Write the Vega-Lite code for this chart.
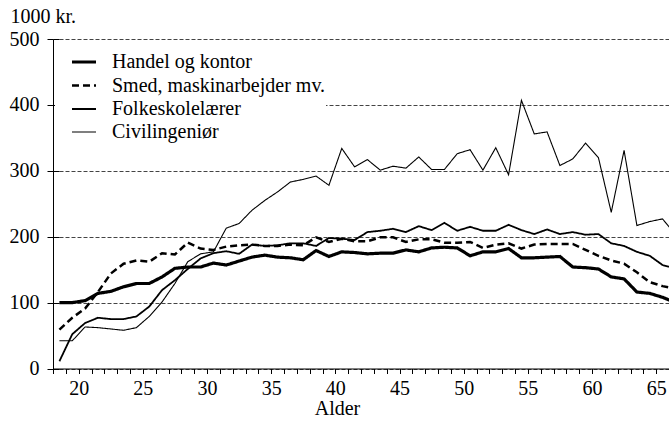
{
  "$schema": "https://vega.github.io/schema/vega-lite/v6.json",
  "width": 616,
  "height": 329.5,
  "autosize": {"type": "none"},
  "padding": {"left": 53, "top": 39, "right": 0, "bottom": 54.5},
  "background": "white",
  "config": {"view": {"stroke": null}, "font": "Liberation Serif"},
  "data": {"values": [
    {"alder": 18.5, "H": 100, "S": 59, "F": 11, "C": 42},
    {"alder": 19.5, "H": 100, "S": 77, "F": 52, "C": 42},
    {"alder": 20.5, "H": 103, "S": 91, "F": 69, "C": 63},
    {"alder": 21.5, "H": 114, "S": 116, "F": 77, "C": 62},
    {"alder": 22.5, "H": 117, "S": 144, "F": 75, "C": 60},
    {"alder": 23.5, "H": 124, "S": 159, "F": 75, "C": 58},
    {"alder": 24.5, "H": 129, "S": 164, "F": 79, "C": 62},
    {"alder": 25.5, "H": 129, "S": 162, "F": 94, "C": 79},
    {"alder": 26.5, "H": 139, "S": 175, "F": 119, "C": 101},
    {"alder": 27.5, "H": 152, "S": 173, "F": 134, "C": 129},
    {"alder": 28.5, "H": 154, "S": 191, "F": 151, "C": 162},
    {"alder": 29.5, "H": 154, "S": 182, "F": 167, "C": 174},
    {"alder": 30.5, "H": 160, "S": 180, "F": 175, "C": 177},
    {"alder": 31.5, "H": 157, "S": 185, "F": 178, "C": 213},
    {"alder": 32.5, "H": 163, "S": 187, "F": 174, "C": 220},
    {"alder": 33.5, "H": 169, "S": 188, "F": 188, "C": 240},
    {"alder": 34.5, "H": 172, "S": 186, "F": 186, "C": 255},
    {"alder": 35.5, "H": 169, "S": 186, "F": 187, "C": 268},
    {"alder": 36.5, "H": 168, "S": 188, "F": 190, "C": 283},
    {"alder": 37.5, "H": 165, "S": 187, "F": 190, "C": 287},
    {"alder": 38.5, "H": 179, "S": 199, "F": 186, "C": 292},
    {"alder": 39.5, "H": 170, "S": 192, "F": 198, "C": 278},
    {"alder": 40.5, "H": 177, "S": 197, "F": 197, "C": 334},
    {"alder": 41.5, "H": 176, "S": 193, "F": 195, "C": 306},
    {"alder": 42.5, "H": 174, "S": 193, "F": 207, "C": 317},
    {"alder": 43.5, "H": 175, "S": 199, "F": 209, "C": 301},
    {"alder": 44.5, "H": 175, "S": 199, "F": 212, "C": 307},
    {"alder": 45.5, "H": 180, "S": 192, "F": 207, "C": 304},
    {"alder": 46.5, "H": 177, "S": 196, "F": 216, "C": 321},
    {"alder": 47.5, "H": 183, "S": 196, "F": 210, "C": 302},
    {"alder": 48.5, "H": 184, "S": 191, "F": 221, "C": 302},
    {"alder": 49.5, "H": 183, "S": 191, "F": 209, "C": 326},
    {"alder": 50.5, "H": 171, "S": 192, "F": 215, "C": 332},
    {"alder": 51.5, "H": 177, "S": 183, "F": 209, "C": 301},
    {"alder": 52.5, "H": 177, "S": 188, "F": 209, "C": 335},
    {"alder": 53.5, "H": 182, "S": 190, "F": 218, "C": 294},
    {"alder": 54.5, "H": 168, "S": 182, "F": 210, "C": 407},
    {"alder": 55.5, "H": 168, "S": 188, "F": 204, "C": 356},
    {"alder": 56.5, "H": 169, "S": 189, "F": 211, "C": 359},
    {"alder": 57.5, "H": 170, "S": 189, "F": 204, "C": 308},
    {"alder": 58.5, "H": 154, "S": 189, "F": 207, "C": 318},
    {"alder": 59.5, "H": 153, "S": 180, "F": 203, "C": 342},
    {"alder": 60.5, "H": 151, "S": 171, "F": 204, "C": 320},
    {"alder": 61.5, "H": 139, "S": 164, "F": 190, "C": 237},
    {"alder": 62.5, "H": 136, "S": 159, "F": 186, "C": 331},
    {"alder": 63.5, "H": 116, "S": 146, "F": 177, "C": 217},
    {"alder": 64.5, "H": 114, "S": 131, "F": 171, "C": 223},
    {"alder": 65.5, "H": 108, "S": 125, "F": 157, "C": 227},
    {"alder": 66.5, "H": 100, "S": 121, "F": 152, "C": 203}
  ]},
  "transform": [{"fold": ["H", "S", "F", "C"], "as": ["serie", "v"]}],
  "layer": [
    {
      "mark": {"type": "line", "clip": true},
      "encoding": {
        "x": {
          "field": "alder", "type": "quantitative",
          "scale": {"domain": [18, 66], "nice": false, "zero": false},
          "axis": {
            "values": [18,19,20,21,22,23,24,25,26,27,28,29,30,31,32,33,34,35,36,37,38,39,40,41,42,43,44,45,46,47,48,49,50,51,52,53,54,55,56,57,58,59,60,61,62,63,64,65,66],
            "labelExpr": "datum.value % 5 === 0 ? datum.label : ''",
            "labelOverlap": false, "labelFlush": false,
            "tickSize": 5, "labelPadding": 21, "labelBaseline": "alphabetic",
            "labelFontSize": 20, "labelColor": "black",
            "tickColor": "black", "domainColor": "black", "grid": false,
            "title": "Alder", "titleFontSize": 20, "titleFontWeight": "normal",
            "titleColor": "black", "titleX": 284, "titleY": 46, "titleBaseline": "alphabetic", "titleAlign": "center"
          }
        },
        "y": {
          "field": "v", "type": "quantitative",
          "scale": {"domain": [0, 500], "nice": false},
          "axis": {
            "values": [0, 100, 200, 300, 400, 500],
            "grid": true, "gridDash": [4, 2], "gridColor": "#444", "gridWidth": 1,
            "tickSize": 6, "labelPadding": 8, "labelFontSize": 20,
            "labelColor": "black", "tickColor": "black", "domainColor": "black",
            "title": "1000 kr.", "titleAngle": 0, "titleAlign": "left", "titleX": -43, "titleY": -17,
            "titleBaseline": "alphabetic", "titleFontSize": 20, "titleFontWeight": "normal",
            "titleColor": "black"
          }
        },
        "color": {
          "field": "serie", "type": "nominal",
          "scale": {"domain": ["H", "S", "F", "C"], "range": ["black", "black", "black", "black"]},
          "legend": {
            "orient": "none", "legendX": 2, "legendY": 9, "fillColor": "white", "padding": 0,
            "symbolOffset": 15,
            "symbolType": "stroke", "symbolSize": 576, "labelFontSize": 20,
            "labelColor": "black", "labelOffset": 14, "rowPadding": 0, "title": null, "labelLimit": 400,
            "labelExpr": "datum.value == 'H' ? 'Handel og kontor' : datum.value == 'S' ? 'Smed, maskinarbejder mv.' : datum.value == 'F' ? 'Folkeskolelærer' : 'Civilingeniør'"
          }
        },
        "strokeDash": {
          "field": "serie", "type": "nominal",
          "scale": {"domain": ["H", "S", "F", "C"], "range": [[1, 0], [7, 4], [1, 0], [1, 0]]},
          "legend": null
        },
        "strokeWidth": {
          "field": "serie", "type": "nominal",
          "scale": {"domain": ["H", "S", "F", "C"], "range": [3.2, 1.1, 1.6, 1]},
          "legend": null
        }
      }
    },
    {
      "mark": {"type": "point", "opacity": 0},
      "encoding": {
        "y": {
          "field": "v", "type": "quantitative",
          "axis": {
            "orient": "left", "values": [0, 100, 200, 300, 400, 500],
            "tickSize": -6, "labels": false, "domain": false, "grid": false, "title": null,
            "tickColor": "black"
          }
        }
      }
    }
  ],
  "resolve": {"axis": {"y": "independent"}}
}
